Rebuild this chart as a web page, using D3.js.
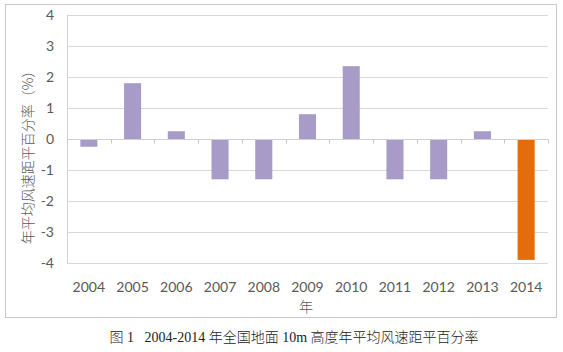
<!DOCTYPE html>
<html>
<head>
<meta charset="utf-8">
<script src="https://cdn.jsdelivr.net/npm/d3@7"></script>
<style>
  body { margin: 0; background: #fff; }
</style>
</head>
<body>
<div id="chart"></div>
<script>
// data
var years = ["2004", "2005", "2006", "2007", "2008", "2009", "2010", "2011", "2012", "2013", "2014"]
var values = [-0.25, 1.8, 0.25, -1.3, -1.3, 0.8, 2.35, -1.3, -1.3, 0.25, -3.9]
var yTicks = [4, 3, 2, 1, 0, -1, -2, -3, -4]

var W = 563, H = 352
var plotL = 67, plotR = 548, plotT = 15, plotB = 263

var svg = d3.select("#chart").append("svg")
    .attr("width", W)
    .attr("height", H)

// outer chart frame
svg.append("rect")
    .attr("x", 5.5).attr("y", 4.5)
    .attr("width", 551).attr("height", 313)
    .attr("fill", "#fff")
    .attr("stroke", "#c8c8c8")

var x = d3.scaleBand()
    .domain(years)
    .range([plotL, plotR])
    .paddingInner(0.61)
    .paddingOuter(0.305)

var y = d3.scaleLinear()
    .domain([-4, 4])
    .range([plotB, plotT])

// gridlines
svg.selectAll("line.grid")
    .data(yTicks)
    .enter().append("line")
    .attr("class", "grid")
    .attr("x1", plotL).attr("x2", plotR)
    .attr("y1", function(d) { return Math.round(y(d)) + 0.5 })
    .attr("y2", function(d) { return Math.round(y(d)) + 0.5 })
    .attr("stroke", "#d9d9d9")

// y axis line
svg.append("line")
    .attr("x1", plotL + 0.5).attr("x2", plotL + 0.5)
    .attr("y1", plotT).attr("y2", plotB)
    .attr("stroke", "#d0d0d0")

// y tick labels
svg.selectAll("text.ylab")
    .data(yTicks)
    .enter().append("text")
    .attr("class", "ylab")
    .attr("x", 54)
    .attr("y", function(d) { return y(d) })
    .attr("dy", "0.35em")
    .attr("text-anchor", "end")
    .attr("font-family", "Lato, 'Open Sans', sans-serif")
    .attr("font-size", 14)
    .attr("fill", "#595959")
    .text(function(d) { return d })

// bars
svg.selectAll("rect.bar")
    .data(values)
    .enter().append("rect")
    .attr("class", "bar")
    .attr("x", function(d, i) { return x(years[i]) })
    .attr("width", x.bandwidth())
    .attr("y", function(d) { return y(Math.max(0, d)) })
    .attr("height", function(d) { return Math.abs(y(d) - y(0)) })
    .attr("fill", function(d, i) { return years[i] == "2014" ? "#e46c0a" : "#a99bc8" })

// zero axis with category tick marks
var y0 = Math.round(y(0)) + 0.5
svg.append("line")
    .attr("x1", plotL).attr("x2", plotR)
    .attr("y1", y0).attr("y2", y0)
    .attr("stroke", "#d0d0d0")

var step = (plotR - plotL) / years.length
svg.selectAll("line.tick")
    .data(d3.range(years.length + 1))
    .enter().append("line")
    .attr("class", "tick")
    .attr("x1", function(i) { return Math.round(plotL + i * step) + 0.5 })
    .attr("x2", function(i) { return Math.round(plotL + i * step) + 0.5 })
    .attr("y1", y0).attr("y2", y0 + 4)
    .attr("stroke", "#c8c8c8")

// x labels
svg.selectAll("text.xlab")
    .data(years)
    .enter().append("text")
    .attr("class", "xlab")
    .attr("x", function(d) { return x(d) + x.bandwidth() / 2 })
    .attr("y", 287)
    .attr("dy", "0.35em")
    .attr("text-anchor", "middle")
    .attr("font-family", "Lato, 'Open Sans', sans-serif")
    .attr("font-size", 14)
    .attr("fill", "#595959")
    .text(function(d) { return d })

// axis titles
svg.append("text")
    .attr("transform", "translate(28,154) rotate(-90)")
    .attr("text-anchor", "middle")
    .attr("dy", "0.35em")
    .attr("font-family", "'Noto Sans CJK SC', sans-serif")
    .attr("font-size", 14)
    .attr("font-weight", 300)
    .attr("fill", "#595959")
    .text("年平均风速距平百分率（%）")

svg.append("text")
    .attr("x", 306).attr("y", 307)
    .attr("dy", "0.35em")
    .attr("text-anchor", "middle")
    .attr("font-family", "'Noto Sans CJK SC', sans-serif")
    .attr("font-size", 14)
    .attr("font-weight", 300)
    .attr("fill", "#595959")
    .text("年")

// caption
svg.append("text")
    .attr("x", 294).attr("y", 337)
    .attr("dy", "0.35em")
    .attr("text-anchor", "middle")
    .attr("font-family", "'Liberation Serif', 'Noto Sans CJK SC', serif")
    .attr("font-size", 14)
    .attr("font-weight", 300)
    .attr("fill", "#222")
    .style("white-space", "pre")
    .text("图 1   2004-2014 年全国地面 10m 高度年平均风速距平百分率")
</script>
</body>
</html>
